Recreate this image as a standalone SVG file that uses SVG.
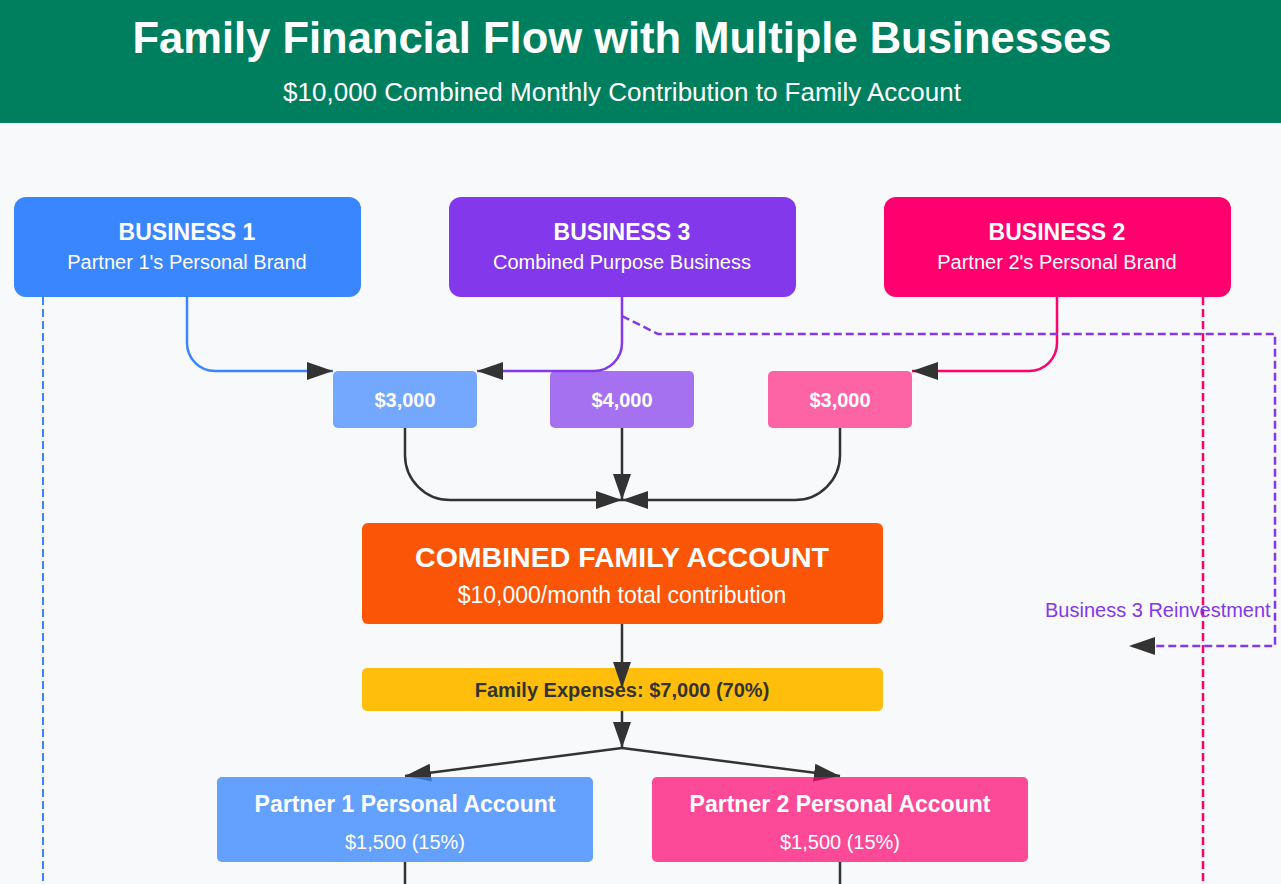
<svg xmlns="http://www.w3.org/2000/svg" width="1281" height="884" viewBox="0 0 1281 884">
<defs>
<marker id="arr" markerUnits="userSpaceOnUse" markerWidth="26" markerHeight="18" refX="26" refY="9" orient="auto">
<path d="M0,0 L26,9 L0,18 z" fill="#333"/>
</marker>
<style>
text{font-family:"Liberation Sans",Arial,sans-serif;text-anchor:middle;fill:#fff}
.b{font-weight:bold}
.t1{font-size:23px;font-weight:bold}
.t2{font-size:20px}
.amt{font-size:20px;font-weight:bold}
.conn{fill:none;stroke-width:2.5}
.dark{stroke:#333}
.dash{fill:none;stroke-width:2.5;stroke-dasharray:8 4}
</style>
</defs>
<rect width="1281" height="884" fill="#f8f9fa"/>
<g id="header">
<rect x="0" y="0" width="1281" height="123" fill="#007f5f"/>
<text x="622" y="53" class="b" style="font-size:43.5px">Family Financial Flow with Multiple Businesses</text>
<text x="622" y="101" style="font-size:26px">$10,000 Combined Monthly Contribution to Family Account</text>
</g>
<g id="dashed-guides">
<line x1="43" y1="297" x2="43" y2="884" stroke="#3a86ff" stroke-width="2" stroke-dasharray="8 4"/>
<line x1="1203" y1="297" x2="1203" y2="884" stroke="#ff006e" stroke-width="2.5" stroke-dasharray="8 4"/>
</g>
<g id="business1">
<rect x="14" y="197" width="347" height="100" rx="12" fill="#3a86ff"/>
<text x="187" y="240" class="t1">BUSINESS 1</text>
<text x="187" y="269" class="t2">Partner 1's Personal Brand</text>
</g>
<g id="business3">
<rect x="449" y="197" width="347" height="100" rx="12" fill="#8338ec"/>
<text x="622" y="240" class="t1">BUSINESS 3</text>
<text x="622" y="269" class="t2">Combined Purpose Business</text>
</g>
<g id="business2">
<rect x="884" y="197" width="347" height="100" rx="12" fill="#ff006e"/>
<text x="1057" y="240" class="t1">BUSINESS 2</text>
<text x="1057" y="269" class="t2">Partner 2's Personal Brand</text>
</g>
<g id="amount1">
<rect x="333" y="371" width="144" height="57" rx="5" fill="#3a86ff" fill-opacity="0.7"/>
<text x="405" y="407" class="amt">$3,000</text>
</g>
<g id="amount3">
<rect x="550" y="371" width="144" height="57" rx="5" fill="#8338ec" fill-opacity="0.7"/>
<text x="622" y="407" class="amt">$4,000</text>
</g>
<g id="amount2">
<rect x="768" y="371" width="144" height="57" rx="5" fill="#ff006e" fill-opacity="0.6"/>
<text x="840" y="407" class="amt">$3,000</text>
</g>
<g id="family-account">
<rect x="362" y="523" width="521" height="101" rx="6" fill="#fb5607"/>
<text x="622" y="567" class="b" style="font-size:28.5px">COMBINED FAMILY ACCOUNT</text>
<text x="622" y="603" style="font-size:23px">$10,000/month total contribution</text>
</g>
<g id="family-expenses">
<rect x="362" y="668" width="521" height="43" rx="5" fill="#ffbe0b"/>
<text x="622" y="697" class="b" style="font-size:20px;fill:#333">Family Expenses: $7,000 (70%)</text>
</g>
<g id="reinvestment-label">
<text x="1045" y="617" style="font-size:20px;fill:#8338ec;text-anchor:start">Business 3 Reinvestment</text>
</g>
<g id="connectors">
<path class="conn" stroke="#3a86ff" d="M187,297 V343 A28,28 0 0 0 215,371 H333" marker-end="url(#arr)"/>
<path class="conn" stroke="#8338ec" d="M622,297 V343 A28,28 0 0 1 594,371 H477" marker-end="url(#arr)"/>
<path class="conn" stroke="#ff006e" d="M1057,297 V343 A28,28 0 0 1 1029,371 H912" marker-end="url(#arr)"/>
<path class="dash" stroke="#8338ec" d="M622,316 L658,334 H1275 V646 H1129" marker-end="url(#arr)"/>
<path class="conn dark" d="M405,428 V455 A45,45 0 0 0 450,500 H622" marker-end="url(#arr)"/>
<path class="conn dark" d="M622,428 V500" marker-end="url(#arr)"/>
<path class="conn dark" d="M840,428 V455 A45,45 0 0 1 795,500 H622" marker-end="url(#arr)"/>
<path class="conn dark" d="M622,624 V688" marker-end="url(#arr)"/>
<path class="conn dark" d="M622,711 V748" marker-end="url(#arr)"/>
<path class="conn dark" d="M622,748 L405,776" marker-end="url(#arr)"/>
<path class="conn dark" d="M622,748 L840,776" marker-end="url(#arr)"/>
<path class="conn dark" stroke-width="2" d="M405,862 V884"/>
<path class="conn dark" stroke-width="2" d="M840,862 V884"/>
</g>
<g id="partner1">
<rect x="217" y="777" width="376" height="85" rx="5" fill="#3a86ff" fill-opacity="0.78"/>
<text x="405" y="812" class="t1">Partner 1 Personal Account</text>
<text x="405" y="849" class="t2">$1,500 (15%)</text>
</g>
<g id="partner2">
<rect x="652" y="777" width="376" height="85" rx="5" fill="#ff006e" fill-opacity="0.7"/>
<text x="840" y="812" class="t1">Partner 2 Personal Account</text>
<text x="840" y="849" class="t2">$1,500 (15%)</text>
</g>
</svg>
